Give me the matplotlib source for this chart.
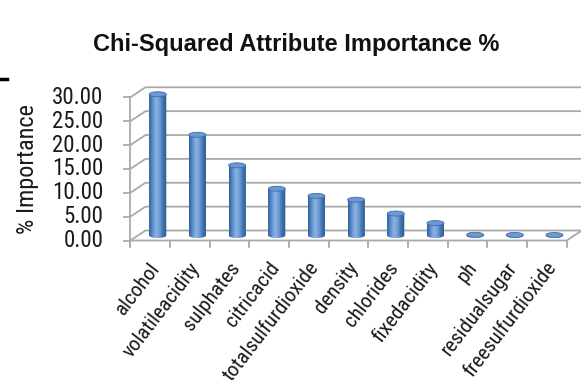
import numpy as np
import matplotlib.pyplot as plt
from matplotlib.patches import Ellipse, Polygon
from matplotlib.colors import LinearSegmentedColormap

attributes = ["alcohol", "volatileacidity", "sulphates", "citricacid",
              "totalsulfurdioxide", "density", "chlorides", "fixedacidity",
              "ph", "residualsugar", "freesulfurdioxide"]
importance = [29.6, 21.1, 14.7, 9.8, 8.3, 7.5, 4.6, 2.6, 0.15, 0.12, 0.1]
y_ticks = [0, 5, 10, 15, 20, 25, 30]

plt.rcParams['font.family'] = ['Roboto Condensed', 'Liberation Sans', 'DejaVu Sans']

fig = plt.figure(figsize=(5.81, 3.87), dpi=100)
ax = fig.add_axes([0, 0, 1, 1])
ax.axis('off')

# depth offset of the back wall (x in categories, y in percent)
DX, DY = 0.38, 2.1
n = len(attributes)
left, right = -0.5, n - 0.5
top = max(y_ticks)
grid_c = '#a9a9a9'
text_c = '#1a1a1a'

# walls and gridlines
for t in y_ticks:
    ax.plot([left, left + DX, right + DX], [t, t + DY, t + DY],
            color=grid_c, lw=1.3, solid_capstyle='butt')
    ax.plot([left - 0.16, left], [t, t], color=grid_c, lw=1.3)
    ax.text(left - 0.68, t, f"{t:.2f}", ha='right', va='center',
            fontsize=16.5, color=text_c)
ax.plot([left, left], [0, top], color=grid_c, lw=1.3)
ax.plot([left, right, right + DX], [0, 0, DY], color=grid_c, lw=1.3)
for k in range(n + 1):
    ax.plot([left + k, left + k], [0, -1.4], color=grid_c, lw=1.3)

# cylinder bars
shade = LinearSegmentedColormap.from_list(
    'cyl', ['#2f5f98', '#5f90cc', '#8cb4e4', '#6a9ad4', '#3f70ad', '#2c5a92'])
grad = np.linspace(0, 1, 64).reshape(1, -1)
bw = 0.43
eh = 1.05
base = DY / 2
xs = np.arange(n) + DX / 2
bars = ax.bar(xs, importance, width=bw, bottom=base, color='#4f81bd', lw=0)
for x, v in zip(xs, importance):
    th = np.linspace(np.pi, 2 * np.pi, 40)
    outline = np.column_stack([x + bw / 2 * np.cos(th), base + eh / 2 * np.sin(th)])
    outline = np.vstack([outline, [x + bw / 2, base + v], [x - bw / 2, base + v]])
    clip = Polygon(outline, closed=True, transform=ax.transData, fc='none', ec='none')
    ax.add_patch(clip)
    im = ax.imshow(grad, cmap=shade, aspect='auto', interpolation='bicubic',
                   extent=[x - bw / 2, x + bw / 2, base - eh / 2, base + v], zorder=3)
    im.set_clip_path(clip)
    ax.add_patch(Ellipse((x, base + v), bw, eh, fc='#6b9ad3', ec='#3e6ea8',
                         lw=0.6, zorder=4))

for i, name in enumerate(attributes):
    ax.text(i + 0.16, -5.0, name, rotation=52.5, ha='right', va='center',
            rotation_mode='anchor', fontsize=15, color=text_c)

ax.text(-3.1, 15, "% Importance", rotation=90, ha='center', va='center',
        fontsize=17.5, color=text_c)
ax.text(3.68, 41.1, "Chi-Squared Attribute Importance %", ha='center', va='center',
        fontsize=17, fontweight='bold', color='#111111',
        family=['Liberation Sans', 'DejaVu Sans'])
ax.plot([-3.787, -3.61], [33.9, 33.9], color='black', lw=2.5)

ax.set_xlim(-3.787, 10.86)
ax.set_ylim(-30.69, 50.39)
fig.savefig('out.png', dpi=100)
